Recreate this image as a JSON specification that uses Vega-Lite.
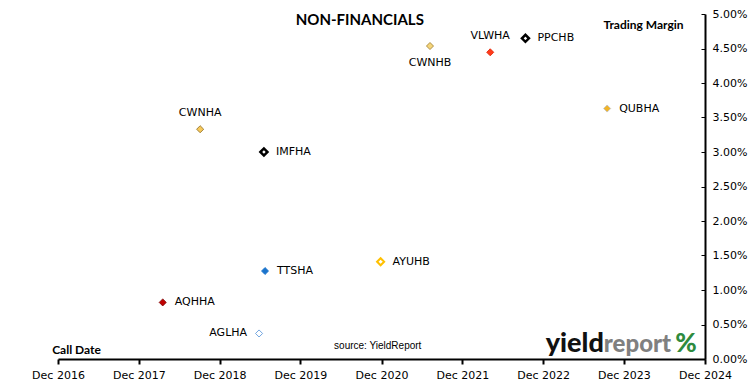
{
  "$schema": "https://vega.github.io/schema/vega-lite/v6.json",
  "width": 647,
  "height": 345,
  "autosize": {"type": "none"},
  "padding": {"left": 58, "top": 14, "right": 45, "bottom": 32},
  "background": "white",
  "config": {"view": {"stroke": null}, "font": "DejaVu Sans", "axis": {"labelOverlap": false, "grid": false}},
  "data": {
    "values": [
      {"name": "CWNHA", "date": "2018-09-04", "margin": 0.0333},
      {"name": "IMFHA", "date": "2019-06-19", "margin": 0.0300},
      {"name": "TTSHA", "date": "2019-06-24", "margin": 0.01275},
      {"name": "AQHHA", "date": "2018-03-19", "margin": 0.0082},
      {"name": "AGLHA", "date": "2019-05-28", "margin": 0.0037},
      {"name": "AYUHB", "date": "2020-11-27", "margin": 0.0141},
      {"name": "CWNHB", "date": "2021-07-08", "margin": 0.04536},
      {"name": "VLWHA", "date": "2022-04-06", "margin": 0.04445},
      {"name": "PPCHB", "date": "2022-09-12", "margin": 0.04648},
      {"name": "QUBHA", "date": "2023-09-16", "margin": 0.0363}
    ]
  },
  "encoding": {
    "x": {
      "field": "date", "type": "temporal",
      "scale": {"type": "utc", "domain": [{"year": 2016, "month": 12, "date": 1, "utc": true}, {"year": 2024, "month": 12, "date": 1, "utc": true}]},
      "axis": {
        "values": [
          {"year": 2016, "month": 12, "date": 1, "utc": true},
          {"year": 2017, "month": 12, "date": 1, "utc": true},
          {"year": 2018, "month": 12, "date": 1, "utc": true},
          {"year": 2019, "month": 12, "date": 1, "utc": true},
          {"year": 2020, "month": 12, "date": 1, "utc": true},
          {"year": 2021, "month": 12, "date": 1, "utc": true},
          {"year": 2022, "month": 12, "date": 1, "utc": true},
          {"year": 2023, "month": 12, "date": 1, "utc": true},
          {"year": 2024, "month": 12, "date": 1, "utc": true}
        ],
        "format": "%b %Y",
        "title": "Call Date",
        "titleX": 18, "titleY": -10, "titleAlign": "center", "titleBaseline": "middle", "titleAngle": 0,
        "titleFont": "Lato", "titleFontSize": 12, "titleFontWeight": "bold", "titleColor": "#000",
        "domainColor": "#000", "domainWidth": 2,
        "tickColor": "#000", "tickWidth": 2, "tickSize": 5,
        "labelFont": "DejaVu Sans", "labelFontSize": 11, "labelColor": "#000", "labelPadding": 5,
        "labelFlush": false, "labelOverlap": false, "grid": false
      }
    },
    "y": {
      "field": "margin", "type": "quantitative",
      "scale": {"domain": [0, 0.05]},
      "axis": {
        "orient": "right",
        "values": [0, 0.005, 0.01, 0.015, 0.02, 0.025, 0.03, 0.035, 0.04, 0.045, 0.05],
        "format": ".2%",
        "title": "Trading Margin",
        "titleAngle": 0, "titleX": -62, "titleY": 10, "titleAlign": "center", "titleBaseline": "middle",
        "titleFont": "Lato", "titleFontSize": 12, "titleFontWeight": "bold", "titleColor": "#000",
        "domainColor": "#000", "domainWidth": 2,
        "tickColor": "#000", "tickWidth": 1, "tickSize": -4,
        "labelFont": "DejaVu Sans", "labelFontSize": 11, "labelColor": "#000", "labelPadding": 11,
        "labelFlush": false, "labelOverlap": false, "grid": false
      }
    },
    "fill": {
      "field": "name", "type": "nominal", "legend": null,
      "scale": {
        "domain": ["CWNHA", "IMFHA", "TTSHA", "AQHHA", "AGLHA", "AYUHB", "CWNHB", "VLWHA", "PPCHB", "QUBHA"],
        "range": ["#F7C95A", "#FFFFFF", "#1A73CC", "#C00000", "#FFFFFF", "#FFFFFF", "#F5D57A", "#FF3A1A", "#FFFFFF", "#F0B429"]
      }
    },
    "stroke": {
      "field": "name", "type": "nominal", "legend": null,
      "scale": {
        "domain": ["CWNHA", "IMFHA", "TTSHA", "AQHHA", "AGLHA", "AYUHB", "CWNHB", "VLWHA", "PPCHB", "QUBHA"],
        "range": ["#8B6A1E", "#000000", "#1A73CC", "#7A0000", "#4F8FD8", "#FFC000", "#9C7A2A", "#E02000", "#000000", "#C0C0C0"]
      }
    }
  },
  "layer": [
    {
      "transform": [{"filter": {"field": "name", "oneOf": ["CWNHA", "TTSHA", "AQHHA", "AGLHA", "CWNHB", "VLWHA", "QUBHA"]}}],
      "mark": {"type": "point", "shape": "diamond", "filled": true, "size": 50, "opacity": 1, "strokeWidth": 0.8}
    },
    {
      "transform": [{"filter": {"field": "name", "oneOf": ["AYUHB"]}}],
      "mark": {"type": "point", "shape": "diamond", "filled": true, "size": 50, "opacity": 1, "strokeWidth": 2}
    },
    {
      "transform": [{"filter": {"field": "name", "oneOf": ["IMFHA", "PPCHB"]}}],
      "mark": {"type": "point", "shape": "diamond", "filled": true, "size": 50, "opacity": 1, "strokeWidth": 2.5}
    },
    {
      "transform": [{"filter": {"field": "name", "oneOf": ["IMFHA", "TTSHA", "AQHHA", "AYUHB", "PPCHB", "QUBHA"]}}],
      "mark": {"type": "text", "align": "left", "baseline": "middle", "dx": 12, "font": "DejaVu Sans", "fontSize": 11, "color": "#000"},
      "encoding": {"text": {"field": "name"}, "fill": {"value": "#000"}, "stroke": {"value": null}}
    },
    {
      "transform": [{"filter": {"field": "name", "oneOf": ["CWNHA", "VLWHA"]}}],
      "mark": {"type": "text", "align": "center", "baseline": "middle", "dy": -16, "font": "DejaVu Sans", "fontSize": 11, "color": "#000"},
      "encoding": {"text": {"field": "name"}, "fill": {"value": "#000"}, "stroke": {"value": null}}
    },
    {
      "transform": [{"filter": {"field": "name", "oneOf": ["CWNHB"]}}],
      "mark": {"type": "text", "align": "center", "baseline": "middle", "dy": 17, "font": "DejaVu Sans", "fontSize": 11, "color": "#000"},
      "encoding": {"text": {"field": "name"}, "fill": {"value": "#000"}, "stroke": {"value": null}}
    },
    {
      "transform": [{"filter": {"field": "name", "oneOf": ["AGLHA"]}}],
      "mark": {"type": "text", "align": "right", "baseline": "middle", "dx": -12, "font": "DejaVu Sans", "fontSize": 11, "color": "#000"},
      "encoding": {"text": {"field": "name"}, "fill": {"value": "#000"}, "stroke": {"value": null}}
    },
    {
      "transform": [{"filter": {"field": "name", "oneOf": ["CWNHA"]}}],
      "mark": {"type": "text", "align": "center", "baseline": "middle", "font": "Lato", "fontSize": 15, "fontWeight": "bold"},
      "encoding": {
        "x": {"datum": {"year": 2020, "month": 8, "date": 25, "utc": true}, "type": "temporal"},
        "y": {"datum": 0.04913, "type": "quantitative"},
        "text": {"value": "NON-FINANCIALS"},
        "fill": {"value": "#000"}, "stroke": {"value": null}
      }
    },
    {
      "transform": [{"filter": {"field": "name", "oneOf": ["CWNHA"]}}],
      "mark": {"type": "text", "align": "center", "baseline": "middle", "font": "Liberation Sans", "fontSize": 10},
      "encoding": {
        "x": {"datum": {"year": 2020, "month": 11, "date": 14, "utc": true}, "type": "temporal"},
        "y": {"datum": 0.0019, "type": "quantitative"},
        "text": {"value": "source: YieldReport"},
        "fill": {"value": "#000"}, "stroke": {"value": null}
      }
    },
    {
      "transform": [{"filter": {"field": "name", "oneOf": ["CWNHA"]}}],
      "mark": {"type": "text", "align": "right", "baseline": "alphabetic", "font": "Lato", "fontSize": 27, "fontWeight": 900},
      "encoding": {
        "x": {"datum": {"year": 2023, "month": 9, "date": 1, "utc": true}, "type": "temporal"},
        "y": {"datum": 0.00101, "type": "quantitative"},
        "text": {"value": "yield"},
        "fill": {"value": "#111111"}, "stroke": {"value": null}
      }
    },
    {
      "transform": [{"filter": {"field": "name", "oneOf": ["CWNHA"]}}],
      "mark": {"type": "text", "align": "left", "baseline": "alphabetic", "font": "Lato", "fontSize": 24, "fontWeight": 900},
      "encoding": {
        "x": {"datum": {"year": 2023, "month": 9, "date": 1, "utc": true}, "type": "temporal"},
        "y": {"datum": 0.00101, "type": "quantitative"},
        "text": {"value": "report"},
        "fill": {"value": "#808080"}, "stroke": {"value": null}
      }
    },
    {
      "transform": [{"filter": {"field": "name", "oneOf": ["CWNHA"]}}],
      "mark": {"type": "text", "align": "left", "baseline": "alphabetic", "font": "Lato", "fontSize": 26, "fontWeight": 900},
      "encoding": {
        "x": {"datum": {"year": 2024, "month": 7, "date": 20, "utc": true}, "type": "temporal"},
        "y": {"datum": 0.00101, "type": "quantitative"},
        "text": {"value": "%"},
        "fill": {"value": "#2E8B3E"}, "stroke": {"value": null}
      }
    }
  ]
}
